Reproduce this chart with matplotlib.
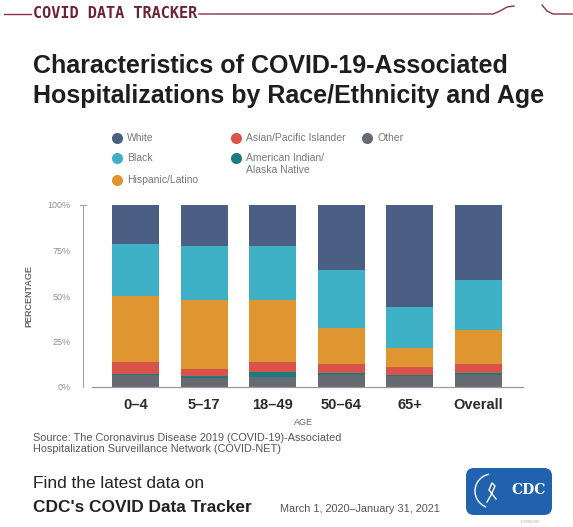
import matplotlib.pyplot as plt
from matplotlib.patches import FancyBboxPatch, Arc
import numpy as np

plt.rcParams['font.family'] = ['Liberation Sans', 'DejaVu Sans']

ages = ['0–4', '5–17', '18–49', '50–64', '65+', 'Overall']
other = [6.5, 5.2, 5.5, 6.4, 5.8, 6.5]
aian = [0.8, 0.7, 2.5, 1.3, 0.6, 1.2]
asian = [6.5, 4.2, 6.0, 5.2, 4.6, 4.8]
hispanic = [36.3, 37.8, 34.0, 19.3, 10.5, 18.8]
black = [28.2, 29.8, 29.7, 32.3, 22.3, 27.6]
white = [21.7, 22.3, 22.3, 35.5, 56.2, 41.1]
yticks = [0, 25, 50, 75, 100]

colors = ['#666b73', '#1b7b7e', '#d9534a', '#df9630', '#3fb1c6', '#4b5e83']
series = [other, aian, asian, hispanic, black, white]

W, H = 573, 527
fig = plt.figure(figsize=(W / 100, H / 100), dpi=100)

def fx(px):
    return px / W

def fy(py):
    return 1 - py / H

# chart
ax = fig.add_axes([fx(83), fy(387), fx(523) - fx(83), fy(205) - fy(387)])
x = np.arange(len(ages))
bottom = np.zeros(len(ages))
for vals, c in zip(series, colors):
    ax.bar(x, vals, width=0.685, bottom=bottom, color=c, linewidth=0)
    bottom += np.array(vals)

ax.set_xlim(-0.765, 5.65)
ax.set_ylim(0, 100)
ax.set_yticks(yticks)
ax.set_yticklabels([f'{t}%' for t in yticks], fontsize=6.5, color='#8f8f8f')
ax.set_xticks(x)
ax.set_xticklabels(ages, fontsize=10.5, fontweight='bold', color='#2b2b2b')
ax.tick_params(axis='x', length=0, pad=8)
ax.tick_params(axis='y', length=0, pad=9)
# small cross tick at the top of the y axis
ax.plot([-0.765 - 0.04, -0.765 + 0.04], [100, 100], color='#999999', lw=0.7,
        clip_on=False)
for s in ['top', 'right']:
    ax.spines[s].set_visible(False)
ax.spines['left'].set_color('#999999')
ax.spines['left'].set_linewidth(0.7)
ax.spines['bottom'].set_color('#999999')
ax.spines['bottom'].set_linewidth(0.9)
ax.spines['bottom'].set_bounds(-0.634, 5.65)
ax.set_ylabel('PERCENTAGE', fontsize=6.5, fontweight='bold', color='#666666', labelpad=10)
ax.set_xlabel('AGE', fontsize=6.5, color='#666666', labelpad=4)

# overlay in pixel coordinates
ov = fig.add_axes([0, 0, 1, 1])
ov.set_xlim(0, W)
ov.set_ylim(H, 0)
ov.axis('off')
ov.patch.set_alpha(0)

# header
hc = '#8c3343'
ov.plot([4, 31], [14, 14], color=hc, lw=1.0)
ov.plot([199, 493, 500, 507, 514], [14, 14, 11, 7, 6], color=hc, lw=1.0)
ov.plot([542, 547, 553, 573], [5, 11, 14, 14], color=hc, lw=1.0)
ov.text(33, 14, 'COVID DATA TRACKER', fontsize=11, fontweight='bold',
        family='DejaVu Sans Mono', color='#6e2232', va='center', ha='left')

# title
ov.text(33, 66, 'Characteristics of COVID-19-Associated', fontsize=18,
        fontweight='bold', color='#1e1e1e', va='center', ha='left')
ov.text(33, 96, 'Hospitalizations by Race/Ethnicity and Age', fontsize=18,
        fontweight='bold', color='#1e1e1e', va='center', ha='left')

# legend
leg_items = [('White', 117, 138, colors[5]), ('Black', 117, 158, colors[4]),
             ('Hispanic/Latino', 117, 180, colors[3]),
             ('Asian/Pacific Islander', 236, 138, colors[2]),
             ('American Indian/\nAlaska Native', 236, 158, colors[1]),
             ('Other', 367, 138, colors[0])]
for lab, lx, ly, c in leg_items:
    ov.plot([lx], [ly], 'o', color=c, markersize=8, markeredgewidth=0)
    ov.text(lx + 10, ly - 5, lab, fontsize=7.5, color='#777777', va='top',
            ha='left', linespacing=1.2)

# source
ov.text(33, 438, 'Source: The Coronavirus Disease 2019 (COVID-19)-Associated',
        fontsize=7.8, color='#555555', va='center', ha='left')
ov.text(33, 449, 'Hospitalization Surveillance Network (COVID-NET)',
        fontsize=7.8, color='#555555', va='center', ha='left')

# footer
ov.text(33, 484, 'Find the latest data on', fontsize=12.4, color='#222222',
        va='center', ha='left')
ov.text(33, 508, "CDC's COVID Data Tracker", fontsize=12.4, fontweight='bold',
        color='#222222', va='center', ha='left')
ov.text(280, 509, 'March 1, 2020–January 31, 2021', fontsize=7.8,
        color='#555555', va='center', ha='left')

# logo
ov.add_patch(FancyBboxPatch((466, 468), 86, 47, boxstyle='round,pad=0,rounding_size=8',
                            facecolor='#2162ae', edgecolor='none'))
ov.add_patch(Arc((492, 491), 34, 34, theta1=110, theta2=260, color='white', lw=1.0))
ov.plot([487, 491, 495, 492, 489, 496], [502, 495, 486, 483, 490, 499],
        color='white', lw=1.0)
ov.text(529, 490, 'CDC', fontsize=10, fontweight='bold', family='DejaVu Serif',
        color='white', va='center', ha='center')
ov.text(530, 522, 'CS000000', fontsize=3, color='#aaaaaa', va='center', ha='center')

fig.savefig('out.png', dpi=100, facecolor='white')
